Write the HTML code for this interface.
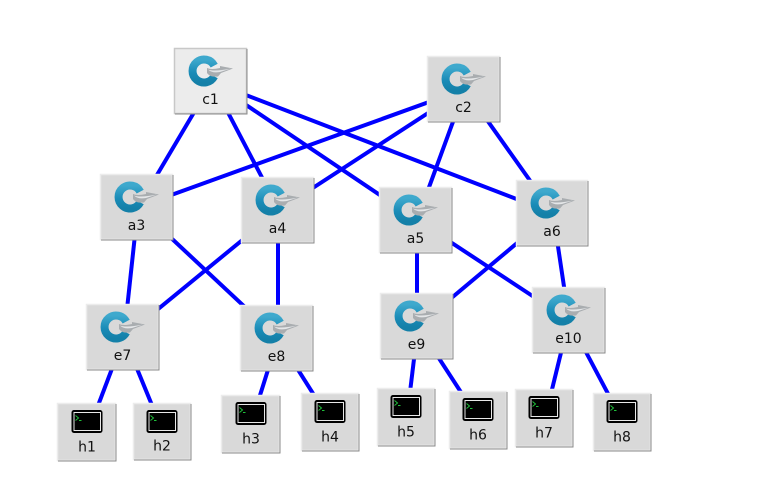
<!DOCTYPE html>
<html><head><meta charset="utf-8"><style>
html,body{margin:0;padding:0;background:#fff}
svg{display:block}
text{font-family:"DejaVu Sans",sans-serif;font-size:14px;fill:#111;text-anchor:middle}
</style></head><body>
<svg width="777" height="491" viewBox="0 0 777 491" xmlns="http://www.w3.org/2000/svg">
<defs>
<linearGradient id="rg" x1="0" y1="0" x2="0" y2="1">
  <stop offset="0" stop-color="#3fa9cd"/>
  <stop offset="0.55" stop-color="#1a8cb8"/>
  <stop offset="1" stop-color="#1480a8"/>
</linearGradient>
<symbol id="sw" width="72" height="66" viewBox="0 0 72 66" overflow="visible">
  <path d="M40.200 17.600 A11.500 11.500 0 1 0 40.200 28.400" fill="none" stroke="url(#rg)" stroke-width="8"/>
  <path d="M33 20 Q37 22 46 20 L46 18 L59 20.500 L47 25 L44 28.500 Q36 29.500 33 25Z" fill="#a9adb0"/>
  <path d="M34 21.500 Q40 24 57 20.500 L46 24 Q38 25.500 34 21.500Z" fill="#e4e6e8"/>
</symbol>
<symbol id="host" width="58" height="58" viewBox="0 0 58 58" overflow="visible">
  <rect x="14.500" y="7" width="31" height="23" rx="2.500" fill="#000"/>
  <rect x="17" y="9.500" width="26.500" height="18" fill="#000" stroke="#e8e8e8" stroke-width="1"/>
  <path d="M18.500 12.500 L21.500 15 L18.500 17.500" fill="none" stroke="#1fbf3a" stroke-width="1"/>
  <path d="M22 17.500 H24.500" stroke="#1fbf3a" stroke-width="1"/>
</symbol>
</defs>
<g stroke="#0000ff" stroke-width="4" fill="none">
<line x1="212" y1="82" x2="138" y2="207"/>
<line x1="212" y1="82" x2="279" y2="210"/>
<line x1="212" y1="82" x2="417" y2="220"/>
<line x1="212" y1="82" x2="553" y2="213"/>
<line x1="465" y1="89" x2="138" y2="207"/>
<line x1="465" y1="89" x2="279" y2="210"/>
<line x1="465" y1="89" x2="417" y2="220"/>
<line x1="465" y1="89" x2="553" y2="213"/>
<line x1="138" y1="207" x2="124" y2="337"/>
<line x1="138" y1="207" x2="278" y2="338"/>
<line x1="279" y1="210" x2="124" y2="337"/>
<line x1="278" y1="210" x2="278" y2="338"/>
<line x1="417" y1="220" x2="417" y2="326"/>
<line x1="417" y1="220" x2="569" y2="320"/>
<line x1="553" y1="213" x2="418" y2="326"/>
<line x1="553" y1="213" x2="569" y2="320"/>
<line x1="124" y1="337" x2="88" y2="432"/>
<line x1="124" y1="337" x2="163" y2="432"/>
<line x1="278" y1="338" x2="251" y2="424"/>
<line x1="278" y1="338" x2="331" y2="422"/>
<line x1="418" y1="326" x2="407" y2="417"/>
<line x1="418" y1="326" x2="479" y2="420"/>
<line x1="569" y1="320" x2="545" y2="418"/>
<line x1="569" y1="320" x2="623" y2="422"/>
</g>
<!-- switches -->
<g>
<rect x="174.500" y="48.500" width="72" height="65" fill="#ececec" stroke="#c8c8c8" stroke-width="1.500"/>
<path d="M175 114H247V49" fill="none" stroke="#8a8a8a" stroke-width="1"/>
<use href="#sw" x="174" y="48"/><text x="210.500" y="104">c1</text>
</g>
<g>
<rect x="427.500" y="56.500" width="72" height="65" fill="#d9d9d9" stroke="#ececec" stroke-width="1.500"/>
<path d="M428 122H500V57" fill="none" stroke="#8a8a8a" stroke-width="1"/>
<use href="#sw" x="427" y="56"/><text x="463.500" y="112">c2</text>
</g>
<g>
<rect x="100.500" y="174.500" width="72" height="65" fill="#d9d9d9" stroke="#ececec" stroke-width="1.500"/>
<path d="M101 240H173V175" fill="none" stroke="#8a8a8a" stroke-width="1"/>
<use href="#sw" x="100" y="174"/><text x="136.500" y="230">a3</text>
</g>
<g>
<rect x="241.500" y="177.500" width="72" height="65" fill="#d9d9d9" stroke="#ececec" stroke-width="1.500"/>
<path d="M242 243H314V178" fill="none" stroke="#8a8a8a" stroke-width="1"/>
<use href="#sw" x="241" y="177"/><text x="277.500" y="233">a4</text>
</g>
<g>
<rect x="379.500" y="187.500" width="72" height="65" fill="#d9d9d9" stroke="#ececec" stroke-width="1.500"/>
<path d="M380 253H452V188" fill="none" stroke="#8a8a8a" stroke-width="1"/>
<use href="#sw" x="379" y="187"/><text x="415.500" y="243">a5</text>
</g>
<g>
<rect x="516.500" y="180.500" width="71" height="65" fill="#d9d9d9" stroke="#ececec" stroke-width="1.500"/>
<path d="M517 246H588V181" fill="none" stroke="#8a8a8a" stroke-width="1"/>
<use href="#sw" x="516" y="180"/><text x="552" y="236">a6</text>
</g>
<g>
<rect x="86.500" y="304.500" width="72" height="65" fill="#d9d9d9" stroke="#ececec" stroke-width="1.500"/>
<path d="M87 370H159V305" fill="none" stroke="#8a8a8a" stroke-width="1"/>
<use href="#sw" x="86" y="304"/><text x="122.500" y="360">e7</text>
</g>
<g>
<rect x="240.500" y="305.500" width="72" height="65" fill="#d9d9d9" stroke="#ececec" stroke-width="1.500"/>
<path d="M241 371H313V306" fill="none" stroke="#8a8a8a" stroke-width="1"/>
<use href="#sw" x="240" y="305"/><text x="276.500" y="361">e8</text>
</g>
<g>
<rect x="380.500" y="293.500" width="72" height="65" fill="#d9d9d9" stroke="#ececec" stroke-width="1.500"/>
<path d="M381 359H453V294" fill="none" stroke="#8a8a8a" stroke-width="1"/>
<use href="#sw" x="380" y="293"/><text x="416.500" y="349">e9</text>
</g>
<g>
<rect x="532.500" y="287.500" width="72" height="65" fill="#d9d9d9" stroke="#ececec" stroke-width="1.500"/>
<path d="M533 353H605V288" fill="none" stroke="#8a8a8a" stroke-width="1"/>
<use href="#sw" x="532" y="287"/><text x="568.500" y="343">e10</text>
</g>
<!-- hosts -->
<g>
<rect x="57.500" y="403.500" width="58" height="57" fill="#d9d9d9" stroke="#ececec" stroke-width="1.500"/>
<path d="M58 461H116V404" fill="none" stroke="#8a8a8a" stroke-width="1"/>
<use href="#host" x="57" y="403"/><text x="87" y="451.500">h1</text>
</g>
<g>
<rect x="133.500" y="403.500" width="57" height="56" fill="#d9d9d9" stroke="#ececec" stroke-width="1.500"/>
<path d="M134 460H191V404" fill="none" stroke="#8a8a8a" stroke-width="1"/>
<use href="#host" x="132" y="403"/><text x="162" y="450.500">h2</text>
</g>
<g>
<rect x="221.500" y="395.500" width="58" height="57" fill="#d9d9d9" stroke="#ececec" stroke-width="1.500"/>
<path d="M222 453H280V396" fill="none" stroke="#8a8a8a" stroke-width="1"/>
<use href="#host" x="221" y="395"/><text x="251" y="443.500">h3</text>
</g>
<g>
<rect x="301.500" y="393.500" width="57" height="57" fill="#d9d9d9" stroke="#ececec" stroke-width="1.500"/>
<path d="M302 451H359V394" fill="none" stroke="#8a8a8a" stroke-width="1"/>
<use href="#host" x="300" y="393"/><text x="330" y="441.500">h4</text>
</g>
<g>
<rect x="377.500" y="388.500" width="57" height="57" fill="#d9d9d9" stroke="#ececec" stroke-width="1.500"/>
<path d="M378 446H435V389" fill="none" stroke="#8a8a8a" stroke-width="1"/>
<use href="#host" x="376" y="388"/><text x="406" y="436.500">h5</text>
</g>
<g>
<rect x="449.500" y="391.500" width="57" height="57" fill="#d9d9d9" stroke="#ececec" stroke-width="1.500"/>
<path d="M450 449H507V392" fill="none" stroke="#8a8a8a" stroke-width="1"/>
<use href="#host" x="448" y="391"/><text x="478" y="439.500">h6</text>
</g>
<g>
<rect x="515.500" y="389.500" width="57" height="57" fill="#d9d9d9" stroke="#ececec" stroke-width="1.500"/>
<path d="M516 447H573V390" fill="none" stroke="#8a8a8a" stroke-width="1"/>
<use href="#host" x="514" y="389"/><text x="544" y="437.500">h7</text>
</g>
<g>
<rect x="593.500" y="393.500" width="57" height="57" fill="#d9d9d9" stroke="#ececec" stroke-width="1.500"/>
<path d="M594 451H651V394" fill="none" stroke="#8a8a8a" stroke-width="1"/>
<use href="#host" x="592" y="393"/><text x="622" y="441.500">h8</text>
</g>
</svg>
</body></html>
